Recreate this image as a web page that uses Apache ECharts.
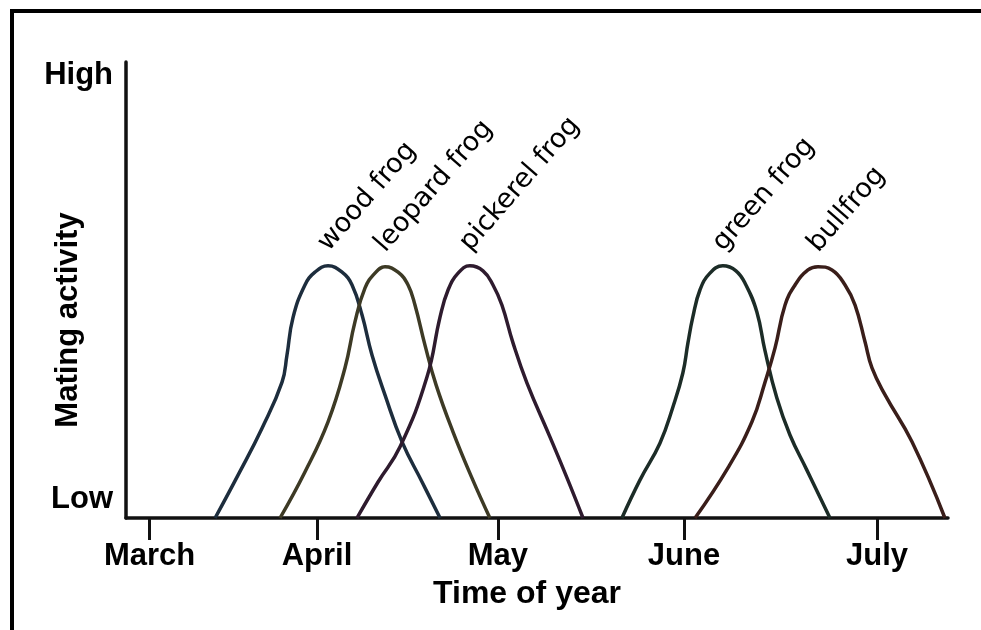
<!DOCTYPE html>
<html>
<head>
<meta charset="utf-8">
<script src="https://cdn.jsdelivr.net/npm/echarts@6/dist/echarts.min.js"></script>
<style>html,body{margin:0;padding:0;background:#fff}#chart{width:981px;height:630px}</style>
</head>
<body>
<div id="chart"></div>
<script>
// Month tick positions (in month units, March = 0)
const monthNames = ['March', 'April', 'May', 'June', 'July'];
const monthPos = [0, 0.92, 1.915, 2.938, 4.0];
// y-axis labels
const yLabelNames = ['Low', 'High'];
const yLabelPos = [4.0, 97.0];

const speciesNames = ['wood frog', 'leopard frog', 'pickerel frog', 'green frog', 'bullfrog'];
const speciesColors = ['#1d2d3d', '#3d3a25', '#2e1b2e', '#1c2c27', '#3a1e1a'];

const woodX = [0.360, 0.486, 0.618, 0.728, 0.755, 0.788, 0.854, 0.909, 0.981, 1.058, 1.113, 1.168, 1.223, 1.294, 1.388, 1.498, 1.597];
const woodY = [0, 9.4, 19.7, 29.8, 35.7, 43.9, 51.1, 53.9, 55.3, 53.9, 51.1, 44.5, 35.7, 27.0, 16.7, 7.9, 0];

const leopardX = [0.717, 0.854, 0.981, 1.074, 1.129, 1.184, 1.239, 1.294, 1.366, 1.421, 1.459, 1.514, 1.575, 1.668, 1.772, 1.871];
const leopardY = [0, 10.1, 21.1, 32.9, 43.0, 50.4, 53.7, 55.1, 53.9, 51.1, 46.7, 37.9, 29.2, 18.9, 8.8, 0];

const pickerelX = [1.140, 1.256, 1.377, 1.525, 1.597, 1.641, 1.696, 1.761, 1.833, 1.888, 1.937, 1.998, 2.075, 2.201, 2.295, 2.383];
const pickerelY = [0, 7.9, 15.6, 30.9, 44.1, 50.0, 53.7, 55.3, 54.2, 51.1, 46.7, 38.4, 29.6, 17.8, 8.8, 0];

const greenX = [2.597, 2.696, 2.806, 2.877, 2.932, 2.960, 2.987, 3.026, 3.081, 3.152, 3.224, 3.279, 3.339, 3.383, 3.449, 3.521, 3.614, 3.741];
const greenY = [0, 8.3, 16.4, 24.3, 31.8, 38.4, 44.1, 50.0, 53.7, 55.3, 54.2, 51.1, 45.2, 36.8, 26.3, 18.2, 10.5, 0];

const bullX = [2.999, 3.180, 3.312, 3.384, 3.439, 3.494, 3.549, 3.620, 3.675, 3.752, 3.824, 3.879, 3.934, 3.972, 4.044, 4.192, 4.373];
const bullY = [0, 11.0, 21.1, 29.8, 37.3, 46.7, 51.1, 54.4, 55.1, 54.4, 51.1, 46.7, 38.6, 32.9, 27.0, 16.7, 0];

const allX = [woodX, leopardX, pickerelX, greenX, bullX];
const allY = [woodY, leopardY, pickerelY, greenY, bullY];

const curveLabelFont = 'DejaVu Sans';
const axisFont = 'Liberation Sans';

const series = speciesNames.map((name, s) => {
  const xs = allX[s], ys = allY[s];
  return {
    type: 'line',
    name: name,
    data: xs.map((x, i) => [x, ys[i]]),
    smooth: 0.45,
    showSymbol: false,
    silent: true,
    z: 3,
    lineStyle: { color: speciesColors[s], width: 3.5 },
    markPoint: {
      silent: true,
      symbol: 'circle',
      symbolSize: 1,
      itemStyle: { color: 'rgba(0,0,0,0)' },
      data: [{ type: 'max', valueDim: 'y' }],
      label: {
        show: true,
        formatter: name,
        position: 'top',
        distance: 3,
        offset: [8, 0],
        rotate: 49,
        align: 'left',
        verticalAlign: 'bottom',
        fontFamily: curveLabelFont,
        fontSize: 27,
        color: '#000'
      }
    }
  };
});

const chart = echarts.init(document.getElementById('chart'), null, { renderer: 'canvas' });
chart.setOption({
  animation: false,
  backgroundColor: '#fff',
  grid: { left: 126, right: 33, top: 62, bottom: 112, containLabel: false, outerBoundsMode: 'none' },
  xAxis: {
    type: 'value',
    min: -0.13,
    max: 4.39,
    name: 'Time of year',
    nameLocation: 'middle',
    nameGap: 60,
    nameMoveOverlap: false,
    nameTextStyle: { fontFamily: axisFont, fontWeight: 'bold', fontSize: 32, color: '#000', padding: [0, 20, 0, 0] },
    axisLine: { show: true, onZero: false, lineStyle: { color: '#111', width: 3.5 } },
    axisTick: { show: true, customValues: monthPos, length: 22, lineStyle: { color: '#111', width: 3 } },
    axisLabel: {
      show: true,
      customValues: monthPos,
      margin: 23,
      fontFamily: axisFont, fontWeight: 'bold', fontSize: 31, color: '#000',
      formatter: function (v) {
        let best = 0;
        monthPos.forEach((p, i) => { if (Math.abs(p - v) < Math.abs(monthPos[best] - v)) best = i; });
        return monthNames[best];
      }
    },
    splitLine: { show: false }
  },
  yAxis: {
    type: 'value',
    min: 0,
    max: 100,
    name: 'Mating activity',
    nameLocation: 'middle',
    nameGap: 42,
    nameRotate: 90,
    nameMoveOverlap: false,
    nameTextStyle: { fontFamily: axisFont, fontWeight: 'bold', fontSize: 31, color: '#000', padding: [0, 60, 0, 0] },
    axisLine: { show: true, onZero: false, lineStyle: { color: '#111', width: 3.5 } },
    axisTick: { show: false },
    axisLabel: {
      show: true,
      customValues: yLabelPos,
      margin: 13,
      fontFamily: axisFont, fontWeight: 'bold', fontSize: 31, color: '#000',
      formatter: function (v) { return v < 50 ? yLabelNames[0] : yLabelNames[1]; }
    },
    splitLine: { show: false }
  },
  graphic: [{
    type: 'rect',
    silent: true,
    shape: { x: 12, y: 11, width: 1100, height: 800 },
    style: { fill: 'none', stroke: '#000', lineWidth: 4 }
  }],
  series: series
});
</script>
</body>
</html>
